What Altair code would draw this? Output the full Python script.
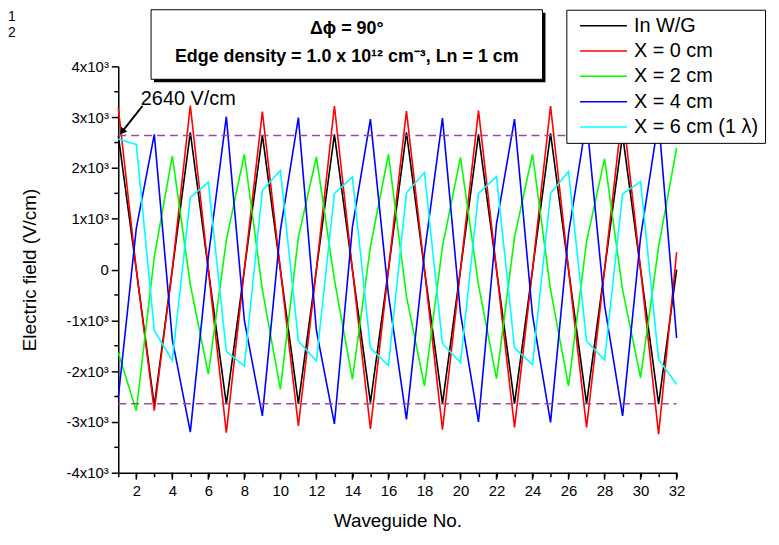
import altair as alt
import pandas as pd

# ---- data ----
waveguide = list(range(1, 33))

in_wg = [2640, 0, -2680, 0, 2700, 0, -2650, 0, 2650, 0, -2640, 0, 2660, 0, -2620, 0,
         2700, 0, -2640, 0, 2660, 0, -2640, 0, 2680, 0, -2640, 0, 2650, 0, -2650, 0]
x_0cm = [3190, 0, -2780, 0, 3230, 0, -3210, 0, 3110, 0, -3080, 0, 3220, 0, -3140, 0,
         3120, 0, -3150, 0, 3130, 0, -3110, 0, 3220, 0, -3110, 0, 3150, 0, -3240, 340]
x_2cm = [-1640, -2780, 250, 2240, -300, -2060, 580, 2270, -400, -2360, 640, 2220, -200, -2160, 450, 2270,
         -530, -2290, 450, 2210, -300, -2150, 640, 2270, -400, -2290, 550, 2180, -400, -2130, 450, 2390]
x_4cm = [-2520, 810, 2660, -1380, -3200, 250, 3010, -1000, -2880, 770, 2990, -1200, -3040, 840, 2960, -500,
         -2950, 320, 2980, -860, -3000, 900, 2960, -900, -3010, 710, 2950, -700, -2880, 640, 2950, -1350]
x_6cm = [2570, 2460, -1200, -1790, 1420, 1720, -1610, -1900, 1560, 1950, -1410, -1800, 1500, 1820, -1540, -1890,
         1510, 1910, -1460, -1830, 1500, 1830, -1540, -1870, 1500, 1930, -1410, -1780, 1490, 1730, -1770, -2260]

series_names = ["In W/G", "X = 0 cm", "X = 2 cm", "X = 4 cm", "X = 6 cm (1 \u03bb)"]
series_colors = ["#000000", "#ff0000", "#00ff00", "#0000ff", "#00ffff"]

ref_levels = [2640, -2640]
ref_x_start = [1, 1]
ref_x_end = [32, 32]

annot_text = ["2640 V/cm"]
annot_x = [2.25]
annot_y = [3240]
arrow_x_tail = [2.34]
arrow_y_tail = [3220]
arrow_x_head = [1.25]
arrow_y_head = [2730]

title_line1 = "\u0394\u03d5 = 90\u00b0"
title_line2 = "Edge density = 1.0 x 10\u00b9\u00b2 cm\u207b\u00b3, Ln = 1 cm"
corner_texts = ["1", "2"]

x_major_ticks = list(range(2, 33, 2))
y_major_ticks = list(range(-4000, 4001, 1000))
y_minor_ticks = list(range(-3500, 4000, 1000))

FONT = "Liberation Sans"

# ---- tables ----
rows = []
for name, vals in zip(series_names, [in_wg, x_0cm, x_2cm, x_4cm, x_6cm]):
    for w, v in zip(waveguide, vals):
        rows.append({"wg": w, "field": v, "series": name, "order": series_names.index(name)})
df = pd.DataFrame(rows)

ref_df = pd.DataFrame({"y": ref_levels, "x": ref_x_start, "x2": ref_x_end})
annot_df = pd.DataFrame({"x": annot_x, "y": annot_y, "t": annot_text})
arrow_df = pd.DataFrame({"x": arrow_x_tail, "y": arrow_y_tail, "x2": arrow_x_head, "y2": arrow_y_head})
xmajor_df = pd.DataFrame({"x": x_major_ticks})
yminor_df = pd.DataFrame({"y": y_minor_ticks})
one = pd.DataFrame({"k": [0]})

xscale = alt.Scale(domain=[1, 32], nice=False)
yscale = alt.Scale(domain=[-4000, 4000], nice=False)

# integer ticks (short); labels only on even waveguides; long ticks added by a rule layer
x_axis = alt.Axis(
    tickCount=40,
    labelExpr="datum.value % 2 === 0 ? datum.label : ''",
    tickSize=4,
    title="Waveguide No.",
    grid=False,
    labelFontSize=15,
    titleFontSize=19,
    titleFontWeight="normal",
    labelPadding=7,
    titlePadding=13,
    labelFlush=False,
    labelOverlap=False,
)
y_axis = alt.Axis(
    values=y_major_ticks,
    tickCount=20,
    labelExpr="datum.value === 0 ? '0' : (datum.value / 1000) + 'x10\u00b3'",
    tickSize=7,
    title="Electric field (V/cm)",
    grid=False,
    labelFontSize=15,
    titleFontSize=19,
    titleFontWeight="normal",
    labelPadding=3,
    titlePadding=27,
    labelFlush=False,
    labelOverlap=False,
)

lines = alt.Chart(df).mark_line(strokeWidth=1.6).encode(
    x=alt.X("wg:Q", scale=xscale, axis=x_axis),
    y=alt.Y("field:Q", scale=yscale, axis=y_axis),
    color=alt.Color(
        "series:N",
        scale=alt.Scale(domain=series_names, range=series_colors),
        legend=alt.Legend(
            orient="none", legendX=451, legendY=-57, title=None,
            symbolType="M-4.9,0H1", symbolSize=256, symbolStrokeWidth=1.5,
            symbolOffset=37,
            labelFontSize=20, labelFont=FONT, labelLimit=300,
            padding=6, rowPadding=5.5, labelOffset=5,
            strokeColor="black", fillColor="white",
        ),
    ),
    order=alt.Order("order:Q"),
)

x_major = alt.Chart(xmajor_df).mark_rule(color="black", strokeWidth=1.5).encode(
    x=alt.X("x:Q", scale=xscale), y=alt.value(409), y2=alt.value(416)
)
y_minor = alt.Chart(yminor_df).mark_rule(color="black", strokeWidth=1.5).encode(
    y=alt.Y("y:Q", scale=yscale), x=alt.value(-4), x2=alt.value(0)
)

refs = alt.Chart(ref_df).mark_rule(color="#9b4a9b", strokeDash=[8, 5], strokeWidth=1.5).encode(
    x=alt.X("x:Q", scale=xscale), x2="x2:Q", y=alt.Y("y:Q", scale=yscale)
)

annot = alt.Chart(annot_df).mark_text(align="left", baseline="alphabetic", fontSize=20, font=FONT).encode(
    x=alt.X("x:Q", scale=xscale), y=alt.Y("y:Q", scale=yscale), text="t:N"
)
arrow_line = alt.Chart(arrow_df).mark_rule(color="black", strokeWidth=2).encode(
    x=alt.X("x:Q", scale=xscale), y=alt.Y("y:Q", scale=yscale), x2="x2:Q", y2="y2:Q"
)
arrow_head = alt.Chart(arrow_df).mark_point(shape="triangle", filled=True, color="black", size=60, angle=218, opacity=1).encode(
    x=alt.X("x2:Q", scale=xscale), y=alt.Y("y2:Q", scale=yscale)
)

box_shadow = alt.Chart(one).mark_rect(color="black").encode(
    x=alt.value(36), x2=alt.value(430), y=alt.value(-54), y2=alt.value(16)
)
box = alt.Chart(one).mark_rect(fill="white", stroke="black", strokeWidth=1).encode(
    x=alt.value(33), x2=alt.value(427), y=alt.value(-57), y2=alt.value(13)
)
t1 = alt.Chart(one).mark_text(fontSize=18, fontWeight="bold", font=FONT, baseline="middle").encode(
    x=alt.value(230), y=alt.value(-38), text=alt.value(title_line1)
)
t2 = alt.Chart(one).mark_text(fontSize=18, fontWeight="bold", font=FONT, baseline="middle").encode(
    x=alt.value(230), y=alt.value(-9), text=alt.value(title_line2)
)
c1 = alt.Chart(one).mark_text(fontSize=14, font=FONT, align="left", baseline="top").encode(
    x=alt.value(-111), y=alt.value(-57), text=alt.value(corner_texts[0])
)
c2 = alt.Chart(one).mark_text(fontSize=14, font=FONT, align="left", baseline="top").encode(
    x=alt.value(-111), y=alt.value(-41), text=alt.value(corner_texts[1])
)

chart = alt.layer(lines, x_major, y_minor, refs, annot, arrow_line, arrow_head,
                  box_shadow, box, t1, t2, c1, c2).properties(
    width=562, height=409,
    autosize=alt.AutoSizeParams(type="none"),
    padding={"left": 111, "top": 57, "right": 95, "bottom": 70},
).configure(font=FONT).configure_axis(
    domainColor="black", tickColor="black", labelColor="black", titleColor="black",
    domainWidth=1.5, tickWidth=1.5, labelFont=FONT, titleFont=FONT,
).configure_view(strokeOpacity=0)

chart.save("out.html", embed_options={"renderer": "svg", "actions": False})
